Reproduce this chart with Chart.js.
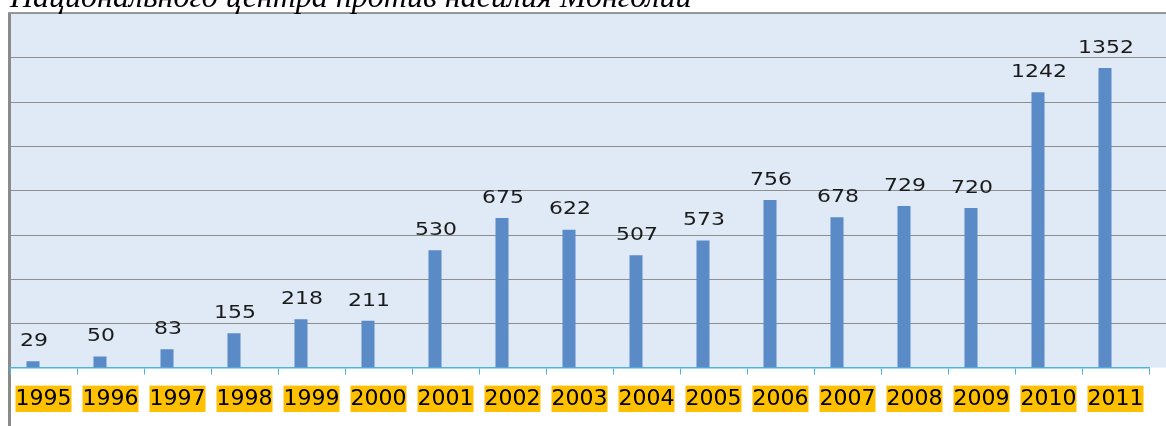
<!DOCTYPE html>
<html lang="ru">
<head>
<meta charset="UTF-8">
<title>Chart</title>
<script src="https://cdn.jsdelivr.net/npm/chart.js"></script>
<style>
  html, body { margin: 0; padding: 0; background: #fff; }
  #wrap { width: 1166px; height: 426px; position: relative; }
</style>
</head>
<body>
<div id="wrap"><canvas id="myChart" width="1166" height="426"></canvas></div>
<script>
// data
const years = ['1995', '1996', '1997', '1998', '1999', '2000', '2001', '2002', '2003',
  '2004', '2005', '2006', '2007', '2008', '2009', '2010', '2011'];
const cases = [29, 50, 83, 155, 218, 211, 530, 675, 622, 507, 573, 756, 678, 729, 720, 1242, 1352];
const emptySeries = []; // second (empty) series of the original clustered chart
const titleText = 'Национального центра против насилия Монголии';

// background, frame, gridlines and the cut-off caption
const backdrop = {
  id: 'backdrop',
  beforeDraw(chart) {
    const { ctx, chartArea, scales } = chart;
    const w = chart.width, h = chart.height;
    ctx.save();
    ctx.fillStyle = '#dfeaf6';
    ctx.fillRect(chartArea.left, chartArea.top, w - chartArea.left, chartArea.bottom - chartArea.top);
    // horizontal gridlines run to the right edge
    ctx.strokeStyle = '#8e8e8e';
    ctx.lineWidth = 1;
    scales.y.ticks.forEach(t => {
      if (t.value === 0) return;
      const y = Math.round(scales.y.getPixelForValue(t.value)) + 0.5;
      ctx.beginPath();
      ctx.moveTo(chartArea.left, y);
      ctx.lineTo(w, y);
      ctx.stroke();
    });
    // frame
    ctx.fillStyle = '#8a8a8a';
    ctx.fillRect(chartArea.left - 2, chartArea.top - 1, 3, h - chartArea.top + 1);
    ctx.fillStyle = '#9a9a9a';
    ctx.fillRect(chartArea.left - 2, chartArea.top - 1, w, 1.5);
    // caption
    ctx.fillStyle = '#000';
    ctx.font = 'italic 32px "Liberation Serif", serif';
    ctx.textBaseline = 'alphabetic';
    ctx.fillText(titleText, 10, 7);
    ctx.restore();
  }
};

// value labels over the bars (the original text is a bit stretched sideways)
const valueLabels = {
  id: 'valueLabels',
  afterDatasetsDraw(chart) {
    const { ctx } = chart;
    const meta = chart.getDatasetMeta(0);
    ctx.save();
    ctx.fillStyle = '#1a1a1a';
    ctx.font = '18px "DejaVu Sans", sans-serif';
    ctx.textAlign = 'center';
    ctx.textBaseline = 'bottom';
    meta.data.forEach((bar, i) => {
      ctx.save();
      ctx.translate(bar.x + 1, bar.y - 11);
      ctx.scale(1.22, 1);
      ctx.fillText(String(cases[i]), 0, 0);
      ctx.restore();
    });
    ctx.restore();
  }
};

const ctx = document.getElementById('myChart').getContext('2d');
new Chart(ctx, {
  type: 'bar',
  data: {
    labels: years,
    datasets: [{
      label: 'cases',
      data: cases,
      backgroundColor: '#5b8bc6',
      categoryPercentage: 0.627,
      barPercentage: 0.62
    }, {
      label: 'empty',
      data: emptySeries,
      backgroundColor: '#c0504d',
      categoryPercentage: 0.627,
      barPercentage: 0.62
    }]
  },
  options: {
    responsive: false,
    animation: false,
    layout: { padding: { left: 10, right: 17, top: 13, bottom: 3 } },
    plugins: { legend: { display: false }, tooltip: { enabled: false } },
    scales: {
      x: {
        grid: { display: true, drawOnChartArea: false, drawTicks: true, tickLength: 7, color: '#4db3e0', offset: true },
        border: { display: true, color: '#4db3e0', width: 1.5 },
        ticks: {
          color: '#000',
          font: { family: 'DejaVu Sans', size: 22 },
          padding: 11,
          maxRotation: 0,
          autoSkip: false,
          showLabelBackdrop: true,
          backdropColor: '#ffc000',
          backdropPadding: { top: 0, bottom: 0, left: 0, right: 0 }
        }
      },
      y: {
        min: 0,
        max: 1600,
        ticks: { display: false, stepSize: 200 },
        grid: { display: false, drawTicks: false },
        border: { display: false }
      }
    }
  },
  plugins: [backdrop, valueLabels]
});
</script>
</body>
</html>
